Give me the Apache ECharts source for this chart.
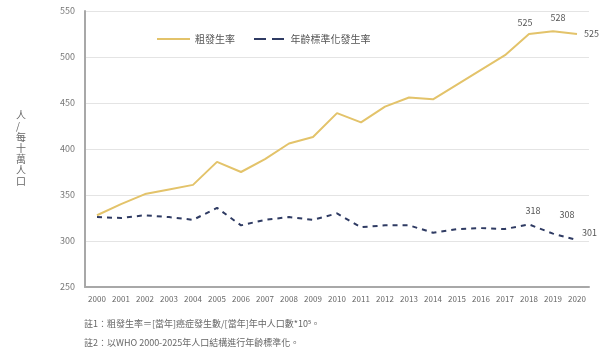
<!DOCTYPE html>
<html>
<head>
<meta charset="utf-8">
<script src="https://cdn.jsdelivr.net/npm/echarts@6/dist/echarts.min.js"></script>
<style>
  html, body { margin: 0; padding: 0; background: #fff; }
  #chart { width: 611px; height: 356px; }
</style>
</head>
<body>
<div id="chart"></div>
<script>
// Years on the category axis
const years = ['2000','2001','2002','2003','2004','2005','2006','2007','2008','2009','2010',
               '2011','2012','2013','2014','2015','2016','2017','2018','2019','2020'];
// Crude incidence per 100k
const crudeRate = [328, 340, 351, 356, 361, 386, 375, 389, 406, 413, 439,
                   429, 446, 456, 454, 470, 486, 502, 525, 528, 525];
// Age-standardised incidence per 100k
const asRate = [326, 325, 328, 326, 323, 336, 317, 323, 326, 323, 330,
                315, 317, 317, 309, 313, 314, 313, 318, 308, 301];
const seriesNames = ['粗發生率', '年齡標準化發生率'];
const yTicks = { min: 250, max: 550, step: 50 };

const FONT = '"Noto Sans CJK TC", "Noto Sans", sans-serif';
const GOLD = '#e3c36a';
const NAVY = '#2f3b63';

// Values are labelled only on the last three years
function withEndLabels(values, placements) {
  const firstLabelled = values.length - placements.length;
  return values.map((v, i) => {
    if (i < firstLabelled) return v;
    const p = placements[i - firstLabelled];
    return {
      value: v,
      label: { show: true, position: p.pos, offset: p.off, fontSize: 9, color: '#555', fontFamily: FONT }
    };
  });
}

// Legend icons: a plain stroke and a two-dash stroke
const solidIcon = 'path://M0,0 H33 V2 H0 Z';
const dashIcon = 'path://M0,0 H12 V2 H0 Z M18,0 H30 V2 H18 Z';

const chart = echarts.init(document.getElementById('chart'));
chart.setOption({
  animation: false,
  textStyle: { fontFamily: FONT },
  grid: { left: 85, right: 22, top: 11, bottom: 69, containLabel: false },
  legend: {
    left: 152, top: 29,
    itemWidth: 33, itemHeight: 2, itemGap: 19,
    textStyle: { fontSize: 10, color: '#555', fontFamily: FONT },
    data: [
      { name: seriesNames[0], icon: solidIcon, itemStyle: { color: GOLD } },
      { name: seriesNames[1], icon: dashIcon, itemStyle: { color: NAVY } }
    ]
  },
  xAxis: {
    type: 'category',
    data: years,
    boundaryGap: true,
    axisLine: { lineStyle: { color: '#a8a8a8', width: 2 } },
    axisTick: { show: false },
    axisLabel: { interval: 0, fontSize: 8, color: '#666', margin: 8, fontFamily: FONT }
  },
  yAxis: {
    type: 'value',
    min: yTicks.min, max: yTicks.max, interval: yTicks.step,
    axisLine: { show: true, lineStyle: { color: '#a8a8a8', width: 2 } },
    axisTick: { show: false },
    splitLine: { lineStyle: { color: '#e4e4e4', width: 1 } },
    axisLabel: { fontSize: 9, color: '#777', margin: 10, fontFamily: FONT }
  },
  series: [
    {
      name: seriesNames[0],
      type: 'line',
      symbol: 'circle',
      symbolSize: 0,
      showSymbol: true,
      showAllSymbol: true,
      lineStyle: { color: GOLD, width: 2 },
      itemStyle: { color: GOLD },
      data: withEndLabels(crudeRate, [
        { pos: 'top', off: [-4, -2] },
        { pos: 'top', off: [5, -4] },
        { pos: 'right', off: [2, 0] }
      ])
    },
    {
      name: seriesNames[1],
      type: 'line',
      symbol: 'circle',
      symbolSize: 0,
      showSymbol: true,
      showAllSymbol: true,
      lineStyle: { color: NAVY, width: 2, type: [5, 5] },
      itemStyle: { color: NAVY },
      data: withEndLabels(asRate, [
        { pos: 'top', off: [4, -4] },
        { pos: 'top', off: [14, -10] },
        { pos: 'right', off: [0, -8] }
      ])
    }
  ],
  graphic: [
    {
      type: 'text', left: 16, top: 110,
      style: {
        text: ['人', '/', '每', '十', '萬', '人', '口'].join('\n'),
        fontSize: 10, lineHeight: 11, fill: '#666', fontFamily: FONT, align: 'center'
      }
    },
    {
      type: 'text', left: 84, top: 319,
      style: {
        text: '註1：粗發生率＝[當年]癌症發生數/[當年]年中人口數*10⁵。',
        fontSize: 9, fill: '#666', fontFamily: FONT
      }
    },
    {
      type: 'text', left: 84, top: 338,
      style: {
        text: '註2：以WHO 2000-2025年人口結構進行年齡標準化。',
        fontSize: 9, fill: '#666', fontFamily: FONT
      }
    }
  ]
});
</script>
</body>
</html>
